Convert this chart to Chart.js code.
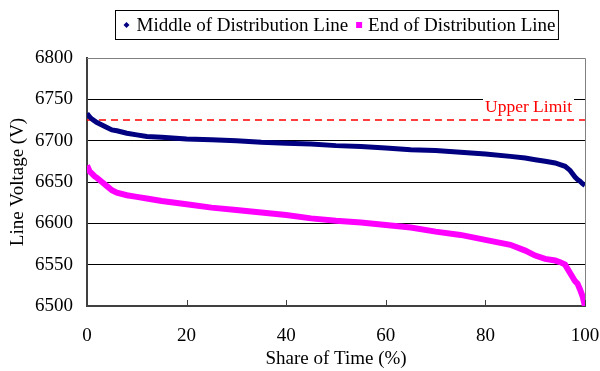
<!DOCTYPE html>
<html><head><meta charset="utf-8">
<script src="https://cdn.jsdelivr.net/npm/chart.js@4"></script>
<style>html,body{margin:0;padding:0;background:#fff}#wrap{width:600px;height:371px}</style>
</head><body><div id="wrap"><canvas id="c" width="600" height="371"></canvas></div>
<script>
const shareOfTime = [0,0.5,1,1.5,2,3,4,5,6,8,10,12,15,20,25,30,35,40,45,50,55,60,65,70,75,80,85,88,90,92,94,95,96,97,98,98.5,99,99.5,100];
const middleVoltage = [6733,6729,6726,6724,6722,6719,6716,6713,6712,6709,6707,6705,6704,6702,6701,6700,6698,6697,6696,6694,6693,6691,6689,6688,6686,6684,6681,6679,6677,6675,6673,6671,6669,6664,6656,6653,6651,6648,6646];
const endVoltage = [6670,6663,6660,6657,6655,6650,6645,6640,6637,6634,6632,6630,6627,6623,6619,6616,6613,6610,6606,6603,6601,6598,6595,6590,6586,6580,6574,6567,6561,6557,6555,6553,6550,6540,6530,6527,6520,6512,6500];
const upperLimit = 6725;
const xTicks = [0,20,40,60,80,100];
const seriesNames = ["Middle of Distribution Line","End of Distribution Line"];

const FONT = "'Liberation Serif','Times New Roman',serif";
const FS = 19;
const pts = (xs, ys) => xs.map((x,i)=>({x:x,y:ys[i]}));

const extras = {
  id:'extras',
  beforeDatasetsDraw(chart){
    const {ctx, chartArea:a} = chart;
    ctx.save();
    ctx.strokeStyle='#808080'; ctx.lineWidth=1;
    ctx.beginPath();
    ctx.moveTo(a.left, a.top+0.5); ctx.lineTo(a.right+0.5, a.top+0.5); ctx.lineTo(a.right+0.5, a.bottom);
    ctx.stroke();
    const xs = chart.scales.x;
    ctx.strokeStyle='#404040'; ctx.lineWidth=1;
    xTicks.forEach(v=>{
      const px = Math.round(xs.getPixelForValue(v))+0.5;
      ctx.beginPath(); ctx.moveTo(px, a.bottom); ctx.lineTo(px, a.bottom-6); ctx.stroke();
    });
    ctx.restore();
  },
  afterDatasetsDraw(chart){
    const {ctx, chartArea:a} = chart;
    const ys = chart.scales.y;
    ctx.save();
    ctx.font = "17.5px "+FONT;
    const txt = "Upper Limit";
    const w = ctx.measureText(txt).width;
    const yLim = ys.getPixelForValue(upperLimit);
    const tx = a.right - 13 - w, ty = yLim - 13;
    ctx.fillStyle='#fff';
    ctx.fillRect(tx-2, ty-10, w+4, 19);
    ctx.fillStyle='#FF0000'; ctx.textBaseline='middle'; ctx.textAlign='left';
    ctx.fillText(txt, tx, ty);
    // legend
    ctx.font = FS+"px "+FONT;
    const w1 = ctx.measureText(seriesNames[0]).width;
    const w2 = ctx.measureText(seriesNames[1]).width;
    const boxW = 11 + 10 + w1 + 11 + 9 + w2 + 3;
    const cx = (a.left + a.right)/2;
    const bx = Math.round(cx - boxW/2)+0.5, by = 10.5, bh = 29;
    ctx.strokeStyle='#000'; ctx.lineWidth=1;
    ctx.strokeRect(bx, by, boxW, bh);
    const my = by + bh/2;
    let x = bx + 11;
    ctx.fillStyle = chart.data.datasets[0].borderColor;
    ctx.beginPath(); ctx.moveTo(x, my-3); ctx.lineTo(x+3, my); ctx.lineTo(x, my+3); ctx.lineTo(x-3, my); ctx.closePath(); ctx.fill();
    x += 10;
    ctx.fillStyle='#000'; ctx.textBaseline='middle';
    ctx.fillText(seriesNames[0], x, my+1);
    x += w1 + 11;
    ctx.fillStyle = chart.data.datasets[1].borderColor;
    ctx.fillRect(x-3, my-3, 6, 6);
    x += 9;
    ctx.fillStyle='#000';
    ctx.fillText(seriesNames[1], x, my+1);
    ctx.restore();
  }
};

new Chart(document.getElementById('c'), {
  type:'line',
  data:{ datasets:[
    {label:seriesNames[0], data:pts(shareOfTime, middleVoltage), borderColor:'#000080', backgroundColor:'#000080', borderWidth:5, pointRadius:0, tension:0, order:1},
    {label:seriesNames[1], data:pts(shareOfTime, endVoltage), borderColor:'#FF00FF', backgroundColor:'#FF00FF', borderWidth:6, pointRadius:0, tension:0, order:2},
    {label:'Upper Limit', data:[{x:0,y:upperLimit},{x:100,y:upperLimit}], borderColor:'#FF0000', borderWidth:1.5, borderDash:[7,5], pointRadius:0, order:3}
  ]},
  options:{
    responsive:false, animation:false,
    layout:{padding:{left:0,right:15,top:58,bottom:0}},
    plugins:{legend:{display:false}, tooltip:{enabled:false}},
    scales:{
      x:{type:'linear', min:0, max:100,
        afterFit(s){ s.height = 65; s.paddingLeft = 0; s.paddingRight = 0; },
        afterBuildTicks(s){ s.ticks = xTicks.map(v=>({value:v})); },
        grid:{display:false, drawTicks:false},
        border:{color:'#404040', width:2},
        ticks:{color:'#000', font:{family:FONT, size:FS}, padding:19, maxRotation:0, callback:v=>String(v)},
        title:{display:true, text:'Share of Time (%)', color:'#000', font:{family:FONT, size:FS}, padding:{top:0,bottom:1}}
      },
      y:{min:6500, max:6800,
        afterFit(s){ s.width = 87; s.paddingTop = 0; s.paddingBottom = 0; },
        grid:{color:'#000', lineWidth:1, drawTicks:false},
        border:{color:'#404040', width:2},
        ticks:{stepSize:50, color:'#000', font:{family:FONT, size:FS}, padding:14, callback:v=>String(v)},
        title:{display:true, text:'Line Voltage (V)', color:'#000', font:{family:FONT, size:FS}, padding:{top:7,bottom:0}}
      }
    }
  },
  plugins:[extras]
});
</script></body></html>
